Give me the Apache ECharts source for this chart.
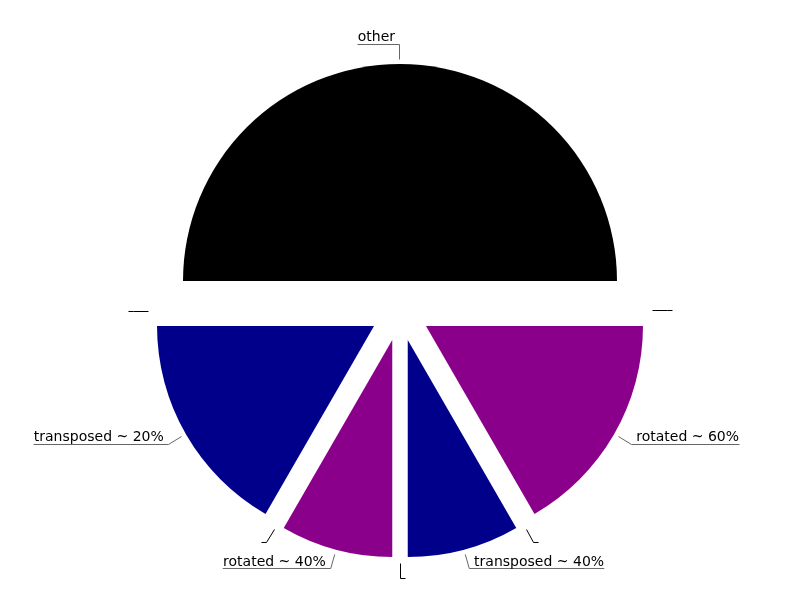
<!DOCTYPE html>
<html><head><meta charset="utf-8">
<script src="https://cdn.jsdelivr.net/npm/echarts@6/dist/echarts.min.js"></script>
<style>html,body{margin:0;padding:0;background:#fff}#c{width:800px;height:600px}</style>
</head><body><div id="c"></div>
<script>
// Slice names ('' = separator gap) and values, clockwise from the left (startAngle 180)
const categories = ['other', '', 'rotated ~ 60%', '', 'transposed ~ 40%', '', 'rotated ~ 40%', '', 'transposed ~ 20%', ''];
const values = [6, 0, 2, 0, 1, 0, 1, 0, 2, 0];
const sliceColors = ['#000000', '#ffffff', '#8b008b', '#ffffff', '#00008b', '#ffffff', '#8b008b', '#ffffff', '#00008b', '#ffffff'];

const chart = echarts.init(document.getElementById('c'), null, {renderer: 'canvas'});
const data = categories.map((name, i) => {
  const isGap = name === '';
  return {
    name: name,
    value: values[i],
    selected: true,
    itemStyle: {color: sliceColors[i]},
    labelLine: {lineStyle: {color: isGap ? '#000000' : '#666666', width: 1}}
  };
});
function crisp(v) { return Math.floor(v) + 0.5; }
chart.setOption({
  animation: false,
  backgroundColor: '#ffffff',
  series: [{
    type: 'pie',
    center: [400, 311],
    radius: 217,
    startAngle: 180,
    clockwise: true,
    selectedMode: 'multiple',
    selectedOffset: 30,
    avoidLabelOverlap: false,
    emphasis: {disabled: true},
    label: {show: true, formatter: '{b}', fontSize: 14, fontFamily: 'DejaVu Sans', color: '#000000'},
    labelLine: {show: true, length: 20, length2: 0},
    labelLayout: function (p) {
      const pts = p.labelLinePoints;
      if (pts) {
        const isLeft = p.labelRect.x < 400;
        pts[2][0] = isLeft ? p.labelRect.x : p.labelRect.x + p.labelRect.width;
        const dx = pts[1][0] - pts[0][0], dy = pts[1][1] - pts[0][1];
        const d = Math.sqrt(dx * dx + dy * dy) || 1;
        pts[0][0] += dx / d * 5;
        pts[0][1] += dy / d * 5;
        for (const q of pts) { q[0] = crisp(q[0]); q[1] = crisp(q[1]); }
      }
      return {labelLinePoints: pts, verticalAlign: 'bottom'};
    },
    data: data
  }]
});
</script></body></html>
